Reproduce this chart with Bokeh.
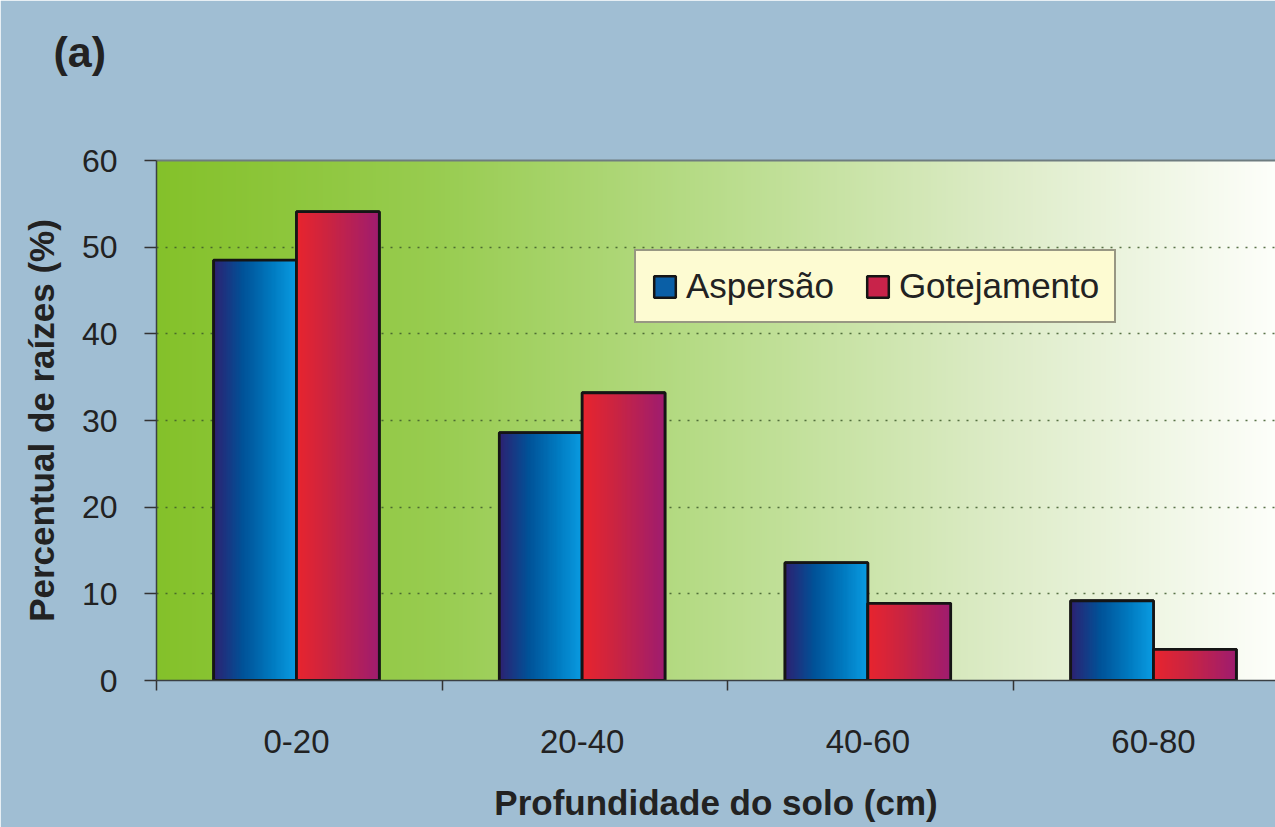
import numpy as np
from bokeh.plotting import figure
from bokeh.models import Range1d, FixedTicker, LinearAxis, Legend, LegendItem
from bokeh.embed import file_html
from bokeh.resources import INLINE

# ---- data ----
categories = ["0-20", "20-40", "40-60", "60-80"]
aspersao = [48.5, 28.6, 13.6, 9.2]
gotejamento = [54.1, 33.2, 8.9, 3.6]
series_names = ["Aspersão", "Gotejamento"]
y_ticks = [0, 10, 20, 30, 40, 50, 60]
y_title = "Percentual de raízes (%)"
x_title = "Profundidade do solo (cm)"
panel_tag = "(a)"

# ---- styling ----
PAGE_BG = "#a0bed3"
FONT = "Liberation Sans"
x_end = 3.917
bar_w = 0.29
offset = 0.145

bg_stops = [(0.0, (132, 193, 42)), (0.25, (152, 204, 80)), (0.5, (184, 220, 138)),
            (0.75, (220, 235, 198)), (1.0, (253, 254, 250))]
asp_stops = [(0.0, (44, 34, 114)), (0.35, (0, 82, 152)), (0.7, (0, 122, 192)), (1.0, (10, 156, 226))]
got_stops = [(0.0, (232, 36, 46)), (0.4, (202, 36, 66)), (1.0, (158, 28, 112))]


def gradient(stops, n):
    pos = [s[0] for s in stops]
    cols = np.array([s[1] for s in stops], dtype=float)
    t = np.linspace(0, 1, n)
    img = np.zeros((1, n), dtype=np.uint32)
    view = img.view(dtype=np.uint8).reshape((1, n, 4))
    for k in range(3):
        view[0, :, k] = np.interp(t, pos, cols[:, k]).round().astype(np.uint8)
    view[0, :, 3] = 255
    return img


W, H = 1275, 827
p = figure(width=W, height=H, output_backend="svg", toolbar_location=None,
           x_range=Range1d(0, x_end), y_range=Range1d(0, 60),
           min_border_left=156, min_border_right=0, min_border_top=160, min_border_bottom=147,
           background_fill_color="white", border_fill_color=PAGE_BG)
p.outline_line_color = None

# title "(a)"
p.title.text = panel_tag
p.title.align = "left"
p.title.offset = -103
p.title.standoff = 46
p.title.text_font = FONT
p.title.text_font_style = "bold"
p.title.text_font_size = "43px"
p.title.text_color = "#222222"

# background gradient of plot area
p.image_rgba(image=[gradient(bg_stops, 512)], x=0, y=0, dw=x_end, dh=60, level="image")

idx = np.arange(len(categories))
centers = [round(float(i) + 0.49, 3) for i in idx]

legend_renderers = []
for vals, stops, sign, mid in [(aspersao, asp_stops, -1, "#0a5fa6"), (gotejamento, got_stops, 1, "#c8234a")]:
    xs = [c + sign * offset for c in centers]
    lefts = [x - bar_w / 2 for x in xs]
    base = p.vbar(x=xs, top=vals, width=bar_w, fill_color=mid, line_color="#151515", line_width=2.5)
    p.image_rgba(image=[gradient(stops, 64) for _ in vals], x=lefts, y=[0] * len(vals),
                 dw=[bar_w] * len(vals), dh=vals)
    p.vbar(x=xs, top=vals, width=bar_w, fill_alpha=0, line_color="#151515", line_width=2.8)
    legend_renderers.append(base)

# axes
xa = p.xaxis[0]
xa.ticker = FixedTicker(ticks=centers, minor_ticks=[float(i) for i in idx])
xa.major_label_overrides = {c: lab for c, lab in zip(centers, categories)}
xa.major_tick_line_color = None
xa.major_tick_out = 10
xa.major_tick_in = 0
xa.minor_tick_out = 10
xa.minor_tick_in = 0
xa.minor_tick_line_color = "#333333"
xa.minor_tick_line_width = 1.5
xa.axis_line_color = "#3a4044"
xa.axis_line_width = 1.5
xa.major_label_text_font = FONT
xa.major_label_text_font_size = "33px"
xa.major_label_text_color = "#222222"
xa.major_label_standoff = 39
xa.axis_label = x_title
xa.axis_label_text_font = FONT
xa.axis_label_text_font_style = "bold"
xa.axis_label_text_font_size = "35px"
xa.axis_label_text_color = "#222222"
xa.axis_label_standoff = 27

ya = p.yaxis[0]
ya.ticker = FixedTicker(ticks=y_ticks, minor_ticks=[])
ya.major_tick_out = 12
ya.major_tick_in = 0
ya.major_tick_line_color = "#333333"
ya.major_tick_line_width = 1.5
ya.axis_line_color = "#3a4044"
ya.axis_line_width = 1.5
ya.major_label_text_font = FONT
ya.major_label_text_font_size = "32px"
ya.major_label_text_color = "#222222"
ya.major_label_standoff = 27
ya.axis_label = y_title
ya.axis_label_text_font = FONT
ya.axis_label_text_font_style = "bold"
ya.axis_label_text_font_size = "35px"
ya.axis_label_text_color = "#222222"
ya.axis_label_standoff = 18

# top border line; its (invisible) label reserves space between title and plot
top_axis = LinearAxis(ticker=FixedTicker(ticks=[]), axis_line_color="#6e7c80", axis_line_width=2,
                      major_tick_line_color=None, minor_tick_line_color=None,
                      axis_label=".", axis_label_text_alpha=0, axis_label_text_font_size="12px",
                      axis_label_standoff=50)
p.add_layout(top_axis, "above")

p.xgrid.visible = False
p.ygrid.ticker = FixedTicker(ticks=y_ticks[1:-1])
p.ygrid.grid_line_color = "#3d5a2a"
p.ygrid.grid_line_dash = "2 7"
p.ygrid.grid_line_width = 1.5
p.ygrid.grid_line_alpha = 0.85

legend = Legend(items=[LegendItem(label=n, renderers=[r]) for n, r in zip(series_names, legend_renderers)],
                location=(478, 357), orientation="horizontal", padding=15, spacing=30,
                label_standoff=8, glyph_width=27, glyph_height=27, margin=0,
                label_text_font=FONT, label_text_font_size="35px", label_text_color="#222222",
                background_fill_color="#fdfbd2", background_fill_alpha=1,
                border_line_color="#333333", border_line_width=2)
p.add_layout(legend)

open("out.html", "w").write(file_html(p, INLINE))
